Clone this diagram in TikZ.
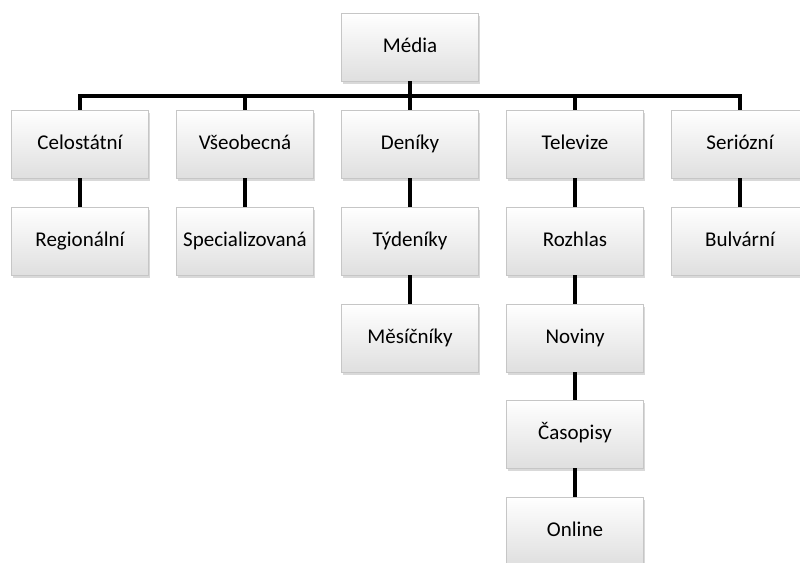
\documentclass[tikz,border=0pt]{standalone}
\usepackage{fontspec}
\setmainfont{Carlito}
\usetikzlibrary{shadows}

\tikzset{
  mbox/.style={minimum width=137pt, minimum height=68pt, inner sep=0pt,
    text height=14pt, text depth=4pt,
    draw=gray!45, line width=0.6pt, top color=white, bottom color=gray!25,
    drop shadow={shadow xshift=1.5pt, shadow yshift=-2.5pt, opacity=0.3},
    font=\fontsize{21}{24}\selectfont},
  bar/.style={line width=4.8pt}
}

\begin{document}
\begin{tikzpicture}[x=1pt,y=-1pt]
\useasboundingbox (0,0) rectangle (800,562);

% Draws the top box
\node[mbox] (media) at (410,47) {Média};

% Draws the first row of categories
\node[mbox] (celost) at (80,144) {Celostátní};
\node[mbox] (vseob) at (245,144) {Všeobecná};
\node[mbox] (deniky) at (410,144) {Deníky};
\node[mbox] (tv) at (575,144) {Televize};
\node[mbox] (serio) at (740,144) {Seriózní};

% Draws the boxes below each category
\node[mbox] (region) at (80,241) {Regionální};
\node[mbox] (special) at (245,241) {Specializovaná};
\node[mbox] (tydeniky) at (410,241) {Týdeníky};
\node[mbox] (mesicniky) at (410,338) {Měsíčníky};
\node[mbox] (rozhlas) at (575,241) {Rozhlas};
\node[mbox] (noviny) at (575,338) {Noviny};
\node[mbox] (casopisy) at (575,434) {Časopisy};
\node[mbox] (online) at (575,531) {Online};
\node[mbox] (bulvar) at (740,241) {Bulvární};

% Draws the bus line from the top box to the first row
\coordinate (bus) at (410,96);
\draw[bar] (media.south) -- (bus);
\draw[bar] (celost.north) |- (bus) -| (serio.north);
\draw[bar] (vseob.north) -- (vseob.north |- bus);
\draw[bar] (deniky.north) -- (bus);
\draw[bar] (tv.north) -- (tv.north |- bus);

% Draws the vertical links inside each column
\draw[bar] (celost) -- (region);
\draw[bar] (vseob) -- (special);
\draw[bar] (deniky) -- (tydeniky);
\draw[bar] (tydeniky) -- (mesicniky);
\draw[bar] (tv) -- (rozhlas);
\draw[bar] (rozhlas) -- (noviny);
\draw[bar] (noviny) -- (casopisy);
\draw[bar] (casopisy) -- (online);
\draw[bar] (serio) -- (bulvar);

\end{tikzpicture}
\end{document}
